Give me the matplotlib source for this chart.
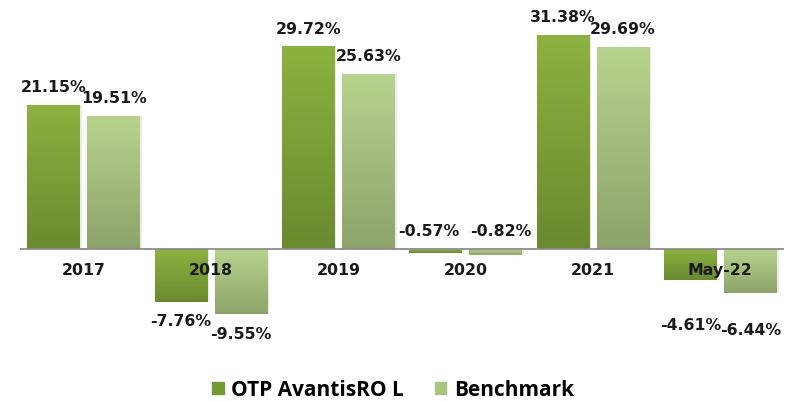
import matplotlib.pyplot as plt
import numpy as np
from matplotlib.colors import LinearSegmentedColormap
from matplotlib.patches import Patch

# data
categories = ["2017", "2018", "2019", "2020", "2021", "May-22"]
fund_values = [21.15, -7.76, 29.72, -0.57, 31.38, -4.61]
bench_values = [19.51, -9.55, 25.63, -0.82, 29.69, -6.44]
series_names = ["OTP AvantisRO L", "Benchmark"]

LABEL_FONT = "DejaVu Sans"
LEGEND_FONT = "Open Sans"
BAR_W = 0.415
OFFSET = 0.236

# extra downward shift (points) for the May-22 labels, which sit lower in the original
EXTRA_DROP = {(5, 0): 18, (5, 1): 13}

fund_cmap = LinearSegmentedColormap.from_list("fund", ["#6a8a2e", "#8cb23f"])
bench_cmap = LinearSegmentedColormap.from_list("bench", ["#8ea36a", "#b7d48c"])


def gradient_bar(ax, x, value, cmap):
    bottom, top = min(0, value), max(0, value)
    bar = ax.bar(x, value, width=BAR_W, color="none", edgecolor="none", zorder=2)[0]
    grad = np.linspace(0, 1, 256).reshape(-1, 1)
    img = ax.imshow(grad, cmap=cmap, origin="lower", aspect="auto",
                    extent=(x - BAR_W / 2, x + BAR_W / 2, bottom, top), zorder=2)
    img.set_clip_path(bar)
    # soft shadow on the right
    ax.bar(x + 0.014, value, width=BAR_W, color="#000000", alpha=0.08, zorder=1.5)


def main():
    fig = plt.figure(figsize=(7.86, 4.01), dpi=100)
    ax = fig.add_axes((20 / 786, (401 - 340) / 401, 764 / 786, 320 / 401))

    x = np.arange(len(categories))
    for i in x:
        gradient_bar(ax, i - OFFSET, fund_values[i], fund_cmap)
        gradient_bar(ax, i + OFFSET, bench_values[i], bench_cmap)

    ax.axhline(0, color="#8c8c8c", lw=1.3, zorder=3)

    txt = dict(fontsize=11.3, fontweight="bold", family=LABEL_FONT, color="#1a1a1a",
               ha="center", zorder=4)
    for i in x:
        for j, (xv, v) in enumerate(((i - OFFSET, fund_values[i]),
                                     (i + OFFSET, bench_values[i]))):
            label = f"{v:.2f}%"
            if abs(v) < 1:
                # tiny bars: label above the zero line, nudged apart
                dx = -5 if j == 0 else 4
                ax.annotate(label, (xv, 0), xytext=(dx, 7), textcoords="offset points",
                            va="bottom", **txt)
            elif v > 0:
                ax.annotate(label, (xv, v), xytext=(0, 7), textcoords="offset points",
                            va="bottom", **txt)
            else:
                dy = -9 - EXTRA_DROP.get((i, j), 0)
                ax.annotate(label, (xv, v), xytext=(0, dy), textcoords="offset points",
                            va="top", **txt)
        ax.annotate(categories[i], (i, 0), xytext=(0, -10), textcoords="offset points",
                    va="top", **txt)

    ax.set_xlim(-0.5, len(categories) - 0.5)
    ax.set_ylim(-13.34, 33.58)
    ax.axis("off")

    handles = [Patch(color="#739b33"), Patch(color="#a8c47d")]
    fig.legend(handles, series_names, loc="center", bbox_to_anchor=(0.5, 1 - 390 / 401),
               ncol=2, frameon=False, handlelength=0.55, handleheight=0.55,
               columnspacing=1.5, handletextpad=0.35,
               prop=dict(family=LEGEND_FONT, weight="bold", size=15))

    fig.savefig("out.png", dpi=100)


if __name__ == "__main__":
    main()
